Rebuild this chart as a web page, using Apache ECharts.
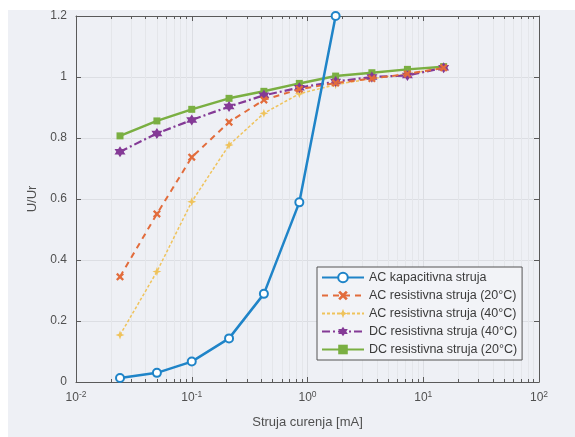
<!DOCTYPE html>
<html>
<head>
<meta charset="utf-8">
<script src="https://cdn.jsdelivr.net/npm/echarts@6/dist/echarts.min.js"></script>
<style>
  html, body { margin: 0; padding: 0; background: #fff; overflow: hidden; }
  #bg { position: fixed; left: 8px; top: 10px; right: 0; bottom: 0; background: #eef0f5; }
  #chart { position: absolute; left: 0; top: 0; width: 575px; height: 437px; }
</style>
</head>
<body>
<div id="bg"></div>
<div id="chart"></div>
<script>
// struja curenja [mA]
const struja = [0.024, 0.05, 0.1, 0.21, 0.42, 0.85, 1.75, 3.6, 7.3, 15];
// U/Ur po seriji
const acKapacitivna = [0.013, 0.03, 0.067, 0.143, 0.289, 0.589, 1.2];
const acRes20 = [0.345, 0.551, 0.737, 0.852, 0.925, 0.96, 0.98, 0.995, 1.01, 1.03];
const acRes40 = [0.154, 0.362, 0.591, 0.777, 0.881, 0.945, 0.975, 0.995, 1.01, 1.03];
const dcRes40 = [0.755, 0.815, 0.859, 0.903, 0.94, 0.965, 0.985, 1.0, 1.005, 1.03];
const dcRes20 = [0.807, 0.856, 0.894, 0.93, 0.953, 0.979, 1.003, 1.014, 1.025, 1.034];
const nazivi = [
    'AC kapacitivna struja',
    'AC resistivna struja (20°C)',
    'AC resistivna struja (40°C)',
    'DC resistivna struja (40°C)',
    'DC resistivna struja (20°C)'
];

// parovi [x, y]
const toPairs = (ys) => ys.map((y, i) => [struja[i], y]);

// sporedne podjele log osi (2..9 u svakoj dekadi)
const minorVals = [];
for (let e = -2; e < 2; e++) {
    for (let k = 2; k <= 9; k++) minorVals.push(k * Math.pow(10, e));
}

const chart = echarts.init(document.getElementById('chart'));

const txt = '#505050';
const axisCol = '#5a5a5a';
const font = 'Liberation Sans';

const xCommon = {
    type: 'log',
    logBase: 10,
    min: 0.01,
    max: 100
};

const markerX = 'path://M0,2L2,0L5,3L8,0L10,2L7,5L10,8L8,10L5,7L2,10L0,8L3,5Z';
const markerStar4 = 'path://M5,0L6.3,3.7L10,5L6.3,6.3L5,10L3.7,6.3L0,5L3.7,3.7Z';
const markerHex = 'path://M5,0L6.4,2.5L9.3,2.5L7.9,5L9.3,7.5L6.4,7.5L5,10L3.6,7.5L0.7,7.5L2.1,5L0.7,2.5L3.6,2.5Z';

const option = {
    backgroundColor: 'transparent',
    animation: false,
    grid: { left: 76, right: 36, top: 16, bottom: 55 },
    legend: {
        z: 20,
        orient: 'vertical',
        left: 317,
        top: 267,
        padding: [4, 5, 4, 4],
        itemGap: 5,
        itemWidth: 42,
        itemHeight: 12,
        backgroundColor: '#f2f3f7',
        borderColor: '#555',
        borderWidth: 1,
        textStyle: { color: '#3a3a3a', fontSize: 12.5, fontFamily: font },
        data: nazivi
    },
    xAxis: [
        Object.assign({}, xCommon, {
            position: 'bottom',
            name: 'Struja curenja [mA]',
            nameLocation: 'middle',
            nameGap: 34,
            nameTextStyle: { color: txt, fontSize: 13, fontFamily: font },
            axisLine: { show: true, lineStyle: { color: axisCol, width: 1 } },
            axisTick: { show: true, inside: true, length: 5, lineStyle: { color: axisCol } },
            axisLabel: {
                color: txt,
                margin: 8,
                formatter: (v) => '{b|10}{s|' + Math.round(Math.log10(v)) + '}',
                rich: {
                    b: { fontSize: 12, lineHeight: 16, color: txt, fontFamily: font },
                    s: { fontSize: 8.5, lineHeight: 8, verticalAlign: 'top', color: txt, fontFamily: font }
                }
            },
            splitLine: { show: true, lineStyle: { color: '#dcdee3', width: 1 } }
        }),
        Object.assign({}, xCommon, {
            position: 'bottom',
            axisLine: { show: false },
            axisLabel: { show: false },
            axisTick: { show: true, inside: true, length: 3, customValues: minorVals, lineStyle: { color: axisCol } },
            splitLine: { show: false }
        }),
        Object.assign({}, xCommon, {
            position: 'top',
            axisLine: { show: true, lineStyle: { color: axisCol, width: 1 } },
            axisLabel: { show: false },
            axisTick: { show: true, inside: true, length: 5, lineStyle: { color: axisCol } },
            splitLine: { show: false }
        }),
        Object.assign({}, xCommon, {
            position: 'top',
            axisLine: { show: false },
            axisLabel: { show: false },
            axisTick: { show: true, inside: true, length: 3, customValues: minorVals, lineStyle: { color: axisCol } },
            splitLine: { show: false }
        })
    ],
    yAxis: [
        {
            type: 'value',
            position: 'left',
            min: 0,
            max: 1.2,
            interval: 0.2,
            name: 'U/Ur',
            nameLocation: 'middle',
            nameGap: 35,
            nameTextStyle: { color: txt, fontSize: 13, fontFamily: font },
            axisLine: { show: true, lineStyle: { color: axisCol, width: 1 } },
            axisTick: { show: true, inside: true, length: 5, lineStyle: { color: axisCol } },
            axisLabel: {
                color: txt,
                fontSize: 12,
                fontFamily: font,
                margin: 9,
                formatter: (v) => String(+v.toFixed(1))
            },
            splitLine: { show: true, lineStyle: { color: '#dcdee3', width: 1 } }
        },
        {
            type: 'value',
            position: 'right',
            min: 0,
            max: 1.2,
            interval: 0.2,
            axisLine: { show: true, lineStyle: { color: axisCol, width: 1 } },
            axisTick: { show: true, inside: true, length: 5, lineStyle: { color: axisCol } },
            axisLabel: { show: false },
            splitLine: { show: false }
        }
    ],
    series: [
        // sporedna mreža (vertikalne linije na 2..9 × 10^n)
        {
            type: 'line',
            data: [],
            silent: true,
            xAxisIndex: 0,
            z: 0,
            markLine: {
                z: 0,
                symbol: 'none',
                silent: true,
                label: { show: false },
                lineStyle: { color: '#e4e6ea', width: 1, type: 'solid' },
                data: minorVals.map((v) => ({ xAxis: v }))
            }
        },
        {
            name: nazivi[0],
            type: 'line',
            data: toPairs(acKapacitivna),
            color: '#1f84c8',
            symbol: 'emptyCircle',
            symbolSize: 8,
            lineStyle: { width: 2.5 },
            itemStyle: { borderWidth: 2, color: '#1f84c8' },
            z: 5
        },
        {
            name: nazivi[1],
            type: 'line',
            data: toPairs(acRes20),
            color: '#e26c3c',
            symbol: markerX,
            symbolSize: 8,
            lineStyle: { width: 2, type: [6, 5] },
            z: 4
        },
        {
            name: nazivi[2],
            type: 'line',
            data: toPairs(acRes40),
            color: '#efc35c',
            symbol: markerStar4,
            symbolSize: 9,
            lineStyle: { width: 1.5, type: [3, 2] },
            z: 3
        },
        {
            name: nazivi[3],
            type: 'line',
            data: toPairs(dcRes40),
            color: '#843a96',
            symbol: markerHex,
            symbolSize: 11,
            lineStyle: { width: 2.2, type: [8, 3, 2, 3] },
            z: 3
        },
        {
            name: nazivi[4],
            type: 'line',
            data: toPairs(dcRes20),
            color: '#7aaf42',
            symbol: 'rect',
            symbolSize: 7,
            lineStyle: { width: 2.5 },
            z: 2
        }
    ]
};

chart.setOption(option);
</script>
</body>
</html>
